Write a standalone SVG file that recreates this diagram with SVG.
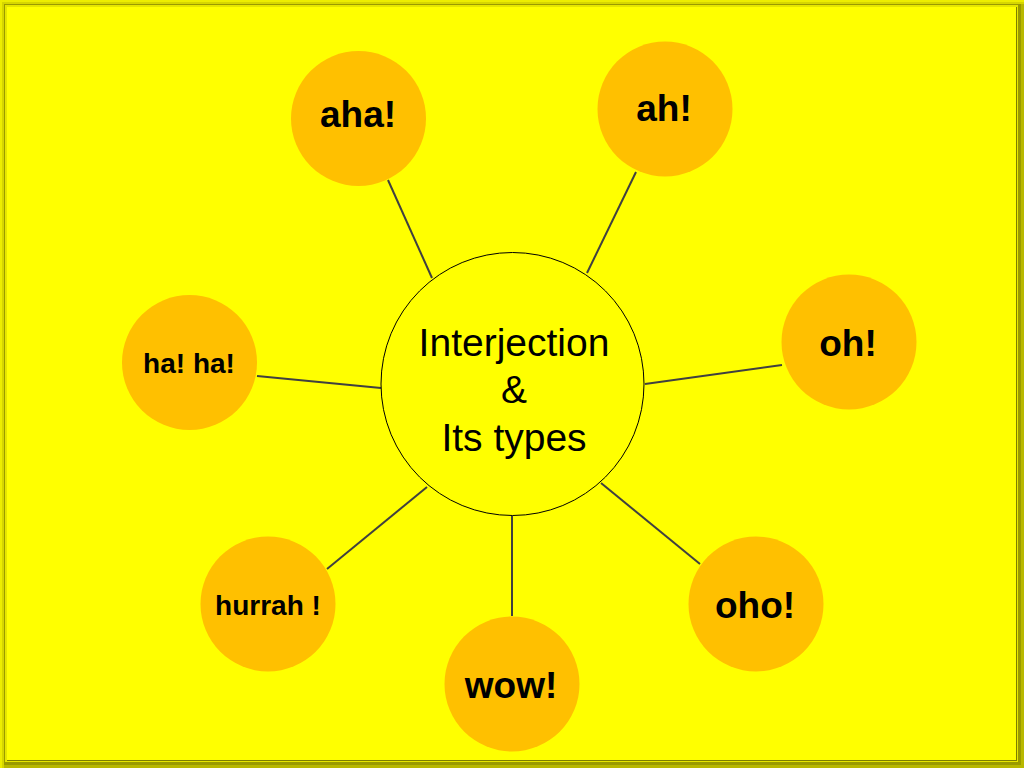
<svg xmlns="http://www.w3.org/2000/svg" width="1024" height="768" viewBox="0 0 1024 768">
  <style>
    .leaf { fill: #FFC000; }
    .lbl { font-family: "Liberation Sans", Arial, sans-serif; font-weight: bold; fill: #000000; text-anchor: middle; }
    .big { font-size: 37px; }
    .small { font-size: 28px; }
    .conn line { stroke: #404040; stroke-width: 2; }
    .ctext { font-family: "Liberation Sans", Arial, sans-serif; font-size: 39px; fill: #000000; text-anchor: middle; }
  </style>
  <g id="background">
    <rect x="0" y="0" width="1024" height="768" fill="#EDED00"/>
    <rect x="2" y="2" width="1022" height="766" fill="#D6D600"/>
    <rect x="4" y="4" width="1020" height="764" fill="#B8B800"/>
    <rect x="4" y="4" width="1017" height="761" fill="#9A9A00"/>
    <rect x="5" y="5" width="1013" height="757" fill="#E6E600"/>
    <rect x="7" y="7" width="1010" height="754" fill="#7E7E00"/>
    <rect x="7" y="7" width="1009" height="753" fill="#FFFF00"/>
  </g>
  <g id="connectors" class="conn">
    <line x1="388" y1="180" x2="432" y2="278"/>
    <line x1="636" y1="172" x2="587" y2="273"/>
    <line x1="257" y1="376" x2="381" y2="388"/>
    <line x1="782" y1="365" x2="645" y2="384"/>
    <line x1="327" y1="569" x2="427" y2="487"/>
    <line x1="512" y1="616" x2="512" y2="516"/>
    <line x1="700" y1="564" x2="601" y2="483"/>
  </g>
  <g id="center">
    <circle cx="512.5" cy="384" r="131.5" fill="#FFFF00" stroke="#000000" stroke-width="1"/>
    <text class="ctext" x="514" y="356">Interjection</text>
    <text class="ctext" x="514" y="403">&amp;</text>
    <text class="ctext" x="514" y="451">Its types</text>
  </g>
  <g id="node-aha">
    <circle class="leaf" cx="358.5" cy="118.5" r="67.5"/>
    <text class="lbl big" x="358" y="127">aha!</text>
  </g>
  <g id="node-ah">
    <circle class="leaf" cx="665" cy="109" r="67.5"/>
    <text class="lbl big" x="664" y="121">ah!</text>
  </g>
  <g id="node-haha">
    <circle class="leaf" cx="189.5" cy="362.5" r="67.5"/>
    <text class="lbl small" x="189" y="373">ha! ha!</text>
  </g>
  <g id="node-oh">
    <circle class="leaf" cx="849" cy="342" r="67.5"/>
    <text class="lbl big" x="848" y="356">oh!</text>
  </g>
  <g id="node-hurrah">
    <circle class="leaf" cx="268" cy="604" r="67.5"/>
    <text class="lbl small" x="268" y="615">hurrah !</text>
  </g>
  <g id="node-wow">
    <circle class="leaf" cx="512" cy="684" r="67.5"/>
    <text class="lbl big" x="511" y="698">wow!</text>
  </g>
  <g id="node-oho">
    <circle class="leaf" cx="756" cy="604" r="67.5"/>
    <text class="lbl big" x="755" y="618">oho!</text>
  </g>
</svg>
